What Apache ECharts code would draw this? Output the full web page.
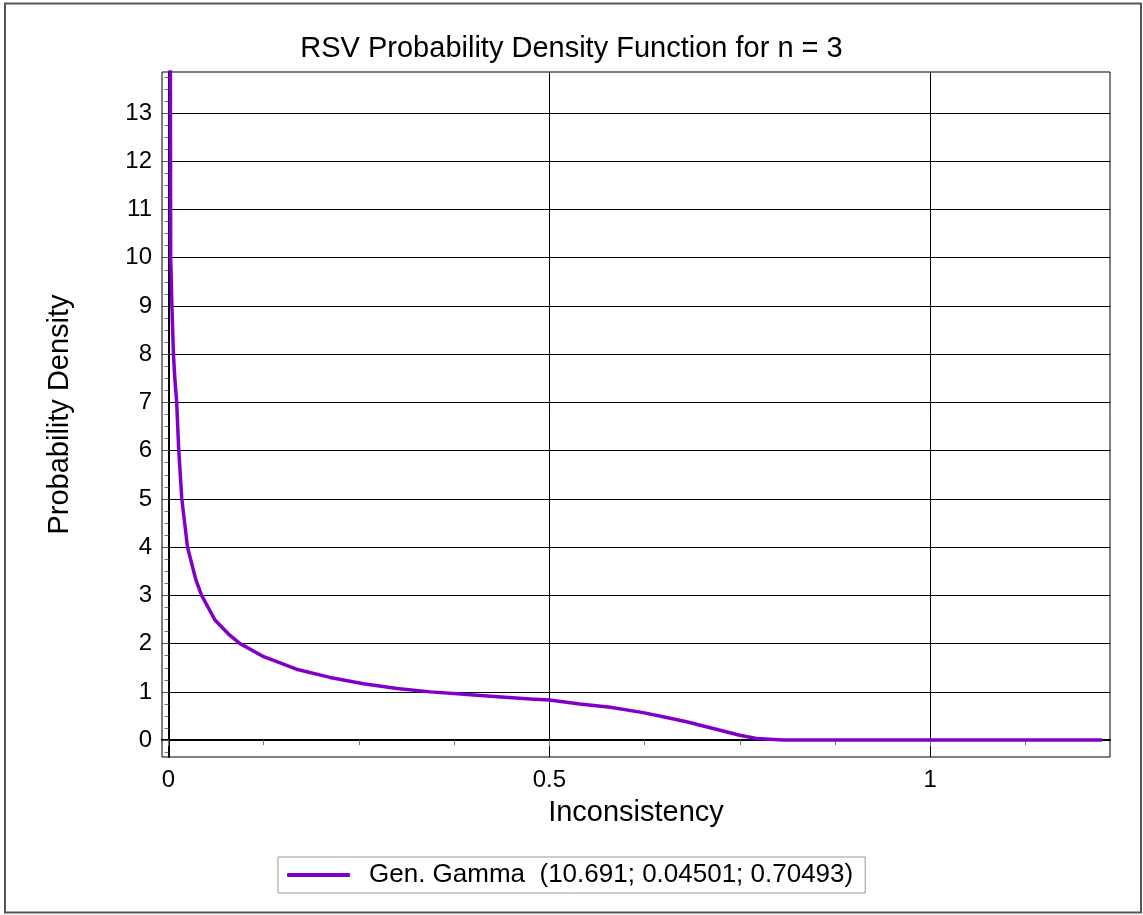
<!DOCTYPE html>
<html>
<head>
<meta charset="utf-8">
<script src="https://cdn.jsdelivr.net/npm/echarts@6/dist/echarts.min.js"></script>
<style>
html,body{margin:0;padding:0;background:#fff;}
#chart{width:1143px;height:915px;}
</style>
</head>
<body>
<div id="chart"></div>
<script>
// Data
const xValues = [0.0020, 0.0025, 0.0029, 0.0045, 0.0065, 0.0085, 0.0108, 0.0135, 0.0175, 0.025, 0.036, 0.0435, 0.061, 0.080, 0.094, 0.125, 0.168, 0.212, 0.256, 0.300, 0.344, 0.388, 0.432, 0.475, 0.500, 0.540, 0.580, 0.623, 0.654, 0.680, 0.715, 0.750, 0.772, 0.807, 1.2255];
const yValues = [15.0, 13.9, 10.0, 9.0, 8.0, 7.46, 7.0, 6.0, 5.0, 4.0, 3.32, 3.0, 2.49, 2.18, 2.0, 1.73, 1.47, 1.30, 1.17, 1.07, 1.00, 0.95, 0.90, 0.85, 0.83, 0.75, 0.68, 0.57, 0.47, 0.38, 0.24, 0.10, 0.035, 0.0, 0.0];
const xTickValues = [0, 0.5, 1];
const yTickValues = [0, 1, 2, 3, 4, 5, 6, 7, 8, 9, 10, 11, 12, 13];
const seriesName = 'Gen. Gamma  (10.691; 0.04501; 0.70493)';
const titleText = 'RSV Probability Density Function for n = 3';
const xName = 'Inconsistency';
const yName = 'Probability Density';

const xMin = -0.0085, xMax = 1.236;
const yMin = -0.35, yMax = 13.85;

// minor tick positions (quarters between major ticks)
const xMinor = [];
for (let i = 0; i <= 9; i++) { const v = i * 0.125; if (v % 0.5 !== 0) xMinor.push(v); }
const yMinor = [];
for (let i = -1; i <= 55; i++) { const v = i * 0.25; if (v % 1 !== 0 && v > yMin && v < yMax) yMinor.push(v); }

const points = xValues.map((x, i) => [x, yValues[i]]);
const FONT = 'Liberation Sans, Arial, sans-serif';
const chart = echarts.init(document.getElementById('chart'), null, {renderer: 'canvas'});
chart.setOption({
  animation: false,
  backgroundColor: '#fff',
  title: {
    text: titleText, left: 'center', top: 29,
    textStyle: {fontFamily: FONT, fontSize: 29, fontWeight: 'normal', color: '#000'}
  },
  legend: {
    data: [seriesName], left: 278, top: 857,
    orient: 'horizontal',
    padding: [5, 12, 5, 9],
    borderColor: '#999', borderWidth: 1,
    itemWidth: 63, itemHeight: 4, icon: 'roundRect',
    textStyle: {fontFamily: FONT, fontSize: 26, color: '#000', padding: [0, 0, 0, 14]}
  },
  graphic: [{
    type: 'rect', silent: true, z: 100,
    shape: {x: 5, y: 3.5, width: 1136, height: 909},
    style: {fill: 'none', stroke: '#555', lineWidth: 2}
  }],
  grid: {
    left: 162, right: 33, top: 72, bottom: 158,
    show: true, borderColor: '#000', borderWidth: 1, backgroundColor: '#fff'
  },
  xAxis: [{
    type: 'value', min: xMin, max: xMax, position: 'bottom',
    name: xName, nameLocation: 'middle', nameGap: 41,
    nameTextStyle: {fontFamily: FONT, fontSize: 29, color: '#000'},
    axisLine: {show: true, lineStyle: {color: '#000', width: 2}},
    axisTick: {show: true, customValues: xTickValues, length: 6, lineStyle: {color: '#777'}},
    axisLabel: {customValues: xTickValues, fontFamily: FONT, fontSize: 24, color: '#000', margin: 11},
    splitLine: {show: true, lineStyle: {color: '#000', width: 1}}
  }, {
    type: 'value', min: xMin, max: xMax, position: 'bottom',
    axisLine: {show: false},
    axisTick: {show: true, customValues: xMinor, length: 5, lineStyle: {color: '#777'}},
    axisLabel: {show: false, customValues: xMinor},
    splitLine: {show: false}
  }],
  yAxis: [{
    type: 'value', min: yMin, max: yMax, position: 'left',
    name: yName, nameLocation: 'middle', nameGap: 88, nameRotate: 90,
    nameTextStyle: {fontFamily: FONT, fontSize: 29, color: '#000'},
    axisLine: {show: true, lineStyle: {color: '#000', width: 2}},
    axisTick: {show: true, customValues: yTickValues, length: 6, lineStyle: {color: '#555'}},
    axisLabel: {customValues: yTickValues, fontFamily: FONT, fontSize: 24, color: '#000', margin: 10},
    splitLine: {show: true, lineStyle: {color: '#000', width: 1}}
  }, {
    type: 'value', min: yMin, max: yMax, position: 'left',
    axisLine: {show: false},
    axisTick: {show: true, customValues: yMinor, length: 4, lineStyle: {color: '#777'}},
    axisLabel: {show: false, customValues: yMinor},
    splitLine: {show: false}
  }],
  series: [{
    name: seriesName, type: 'line', xAxisIndex: 0, yAxisIndex: 0,
    data: points, symbol: 'none', clip: true, smooth: false,
    lineStyle: {color: '#8000c8', width: 3.5},
    itemStyle: {color: '#8000c8'}
  }]
});
</script>
</body>
</html>
